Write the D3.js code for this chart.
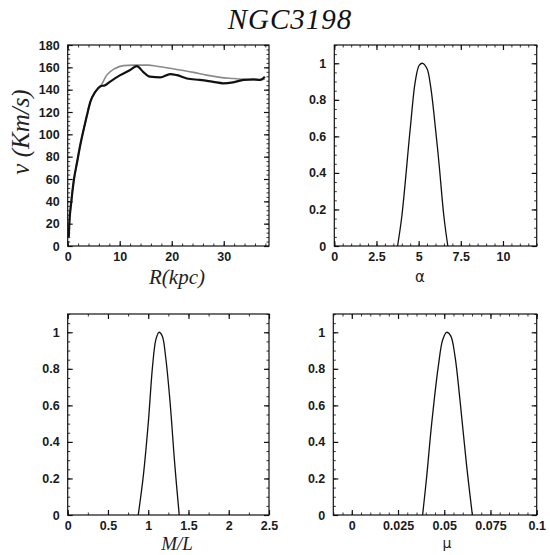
<!DOCTYPE html>
<html><head><meta charset="utf-8">
<script src="https://cdn.jsdelivr.net/npm/d3@7"></script>
<style>
html,body{margin:0;padding:0;background:#fff;}
svg{display:block;}
.tick text{font-family:"Liberation Sans",Arial,sans-serif;font-weight:bold;font-size:12.5px;fill:#1a1a1a;}
</style></head>
<body>
<svg id="chart" width="550" height="555"></svg>
<script>
// ---- data ----
const title = "NGC3198";
// rotation curve: observed (thick) and model (thin)
const obsR = [0.2,0.3,0.7,1.15,1.8,2.4,3.1,3.7,4.35,5.3,6.3,7.2,8.1,10.1,12.0,13.3,14.5,15.8,17.8,19.7,21.0,22.9,25.4,28.0,29.9,31.8,33.8,35.7,37.0,37.9];
const obsV = [8,19,40,58,75,90,105,117,129,138,143,144,147,153,157.6,161,156,151.6,151,154,153,150,148.7,147,145.7,146.6,148.7,149.3,148.7,151.6];
const modR = [0.2,0.3,0.7,1.15,1.8,2.4,3.1,3.7,4.35,5.3,6.3,7.5,9.1,10.7,12.6,15.5,17.1,19.0,21.6,24.2,26.7,29.3,31.8,33.8,36.3,37.9];
const modV = [8,19,40,58,75,90,105,117,129,138,143,153,159,161.5,162,162,161,159.7,157.6,155.5,153,151,150,149.3,148.7,149.3];
// likelihoods
const alphaX = [3.75,4.0,4.5,4.8,5.04,5.24,5.5,5.7,5.9,6.2,6.5,6.73];
const alphaP = [0,0.16,0.64,0.9,0.99,1.0,0.97,0.88,0.73,0.46,0.16,0];
const mlX = [0.876,0.938,1.0,1.054,1.095,1.133,1.174,1.215,1.269,1.331,1.385];
const mlP = [0,0.21,0.5,0.815,0.96,1.0,0.98,0.87,0.63,0.27,0];
const muX = [0.0383,0.0405,0.0432,0.0468,0.0492,0.0513,0.0535,0.0558,0.0585,0.0621,0.0652];
const muP = [0,0.21,0.5,0.815,0.96,1.0,0.98,0.87,0.63,0.27,0];
// tick labels
const rTicks = [0,10,20,30];
const vTicks = [0,20,40,60,80,100,120,140,160,180];
const pTicks = [0,0.2,0.4,0.6,0.8,1];
const pLabels = ["0","0.2","0.4","0.6","0.8","1"];
const alphaTicks = [0,2.5,5,7.5,10];
const alphaLabels = ["0","2.5","5","7.5","10"];
const mlTicks = [0,0.5,1,1.5,2,2.5];
const mlLabels = ["0","0.5","1","1.5","2","2.5"];
const muTicks = [0,0.025,0.05,0.075,0.1];
const muLabels = ["0","0.025","0.05","0.075","0.1"];

const svg = d3.select("#chart");

function range(a,b,s){const out=[];for(let v=a;v<=b+1e-9;v+=s)out.push(+v.toFixed(6));return out;}

function panel(o){
  const x = d3.scaleLinear().domain(o.xd).range([o.x0,o.x1]);
  const y = d3.scaleLinear().domain(o.yd).range([o.y1,o.y0]);
  const g = svg.append("g");
  const minX = range(o.xd[0]<0?Math.ceil(o.xd[0]/o.xm)*o.xm:0,o.xd[1],o.xm);
  const minY = range(0,o.yd[1],o.ym);
  const ax = [
    [d3.axisBottom,x,"translate(0,"+o.y1+")",minX,o.xt,o.xl,true,6],
    [d3.axisTop,x,"translate(0,"+o.y0+")",minX,o.xt,null,false,6],
    [d3.axisLeft,y,"translate("+o.x0+",0)",minY,o.yt,o.yl,true,8],
    [d3.axisRight,y,"translate("+o.x1+",0)",minY,o.yt,null,false,8]
  ];
  ax.forEach(([mkAxis,sc,tr,minors,majors,labels,show,pad])=>{
    g.append("g").attr("transform",tr)
      .call(mkAxis(sc).tickValues(minors).tickSize(-2.5).tickFormat(""))
      .call(s=>{s.select(".domain").remove();s.selectAll("line").attr("stroke","#333");});
    const main = mkAxis(sc).tickValues(majors).tickSizeInner(-5).tickSizeOuter(0).tickPadding(pad)
      .tickFormat(show?((d,i)=>labels?labels[i]:d):"");
    g.append("g").attr("transform",tr).call(main)
      .call(s=>{s.select(".domain").remove();s.selectAll("line").attr("stroke","#111").attr("stroke-width",1.2);});
  });
  g.append("rect").attr("x",o.x0).attr("y",o.y0).attr("width",o.x1-o.x0).attr("height",o.y1-o.y0)
    .attr("fill","none").attr("stroke","#111").attr("stroke-width",1.2);
  return {x,y,g};
}

// Panel 1: rotation curve
const p1 = panel({x0:67.7,x1:269,y0:45,y1:246,xd:[0,38.7],yd:[0,180],xt:rTicks,xl:null,xm:2,yt:vTicks,yl:null,ym:4});
const line1 = d3.line().x(d=>p1.x(d[0])).y(d=>p1.y(d[1])).curve(d3.curveMonotoneX);
p1.g.append("path").attr("d",line1(modR.map((r,i)=>[r,modV[i]])))
  .attr("fill","none").attr("stroke","#8a8a8a").attr("stroke-width",1.6);
p1.g.append("path").attr("d",line1(obsR.map((r,i)=>[r,obsV[i]])))
  .attr("fill","none").attr("stroke","#111").attr("stroke-width",2.2);

// Panel 2: alpha
const p2 = panel({x0:334.3,x1:536.7,y0:45,y1:246,xd:[0,12],yd:[0,1.1],xt:alphaTicks,xl:alphaLabels,xm:0.5,yt:pTicks,yl:pLabels,ym:0.05});
// Panel 3: M/L
const p3 = panel({x0:67.7,x1:269,y0:314,y1:515,xd:[0,2.5],yd:[0,1.1],xt:mlTicks,xl:mlLabels,xm:0.25,yt:pTicks,yl:pLabels,ym:0.05});
// Panel 4: mu
const p4 = panel({x0:333.3,x1:536.7,y0:314,y1:515,xd:[-0.01,0.1],yd:[0,1.1],xt:muTicks,xl:muLabels,xm:0.005,yt:pTicks,yl:pLabels,ym:0.05});

[[p2,alphaX,alphaP],[p3,mlX,mlP],[p4,muX,muP]].forEach(([p,xs,ps])=>{
  const ln = d3.line().x(d=>p.x(d[0])).y(d=>p.y(d[1])).curve(d3.curveCatmullRom.alpha(0.5));
  p.g.append("path").attr("d",ln(xs.map((v,i)=>[v,ps[i]])))
    .attr("fill","none").attr("stroke","#111").attr("stroke-width",1.3);
});

// Titles & axis labels
svg.append("text").attr("x",290).attr("y",29).attr("text-anchor","middle")
  .attr("font-family","Liberation Serif,Times New Roman,serif").attr("font-style","italic")
  .attr("font-size",29).attr("letter-spacing",1).attr("fill","#111").text(title);
svg.append("text").attr("transform","translate(29,132) rotate(-90)").attr("text-anchor","middle")
  .attr("font-family","Liberation Serif,Times New Roman,serif").attr("font-style","italic")
  .attr("font-size",25).attr("fill","#222").text("v (Km/s)");
svg.append("text").attr("x",177).attr("y",284).attr("text-anchor","middle")
  .attr("font-family","Liberation Serif,Times New Roman,serif").attr("font-style","italic")
  .attr("font-size",21).attr("fill","#222").text("R(kpc)");
svg.append("text").attr("x",177).attr("y",550).attr("text-anchor","middle")
  .attr("font-family","Liberation Serif,Times New Roman,serif").attr("font-style","italic")
  .attr("font-size",19).attr("fill","#222").text("M/L");
svg.append("text").attr("x",420).attr("y",282).attr("text-anchor","middle")
  .attr("font-family","DejaVu Sans,sans-serif").attr("font-size",15).attr("fill","#222").text("α");
svg.append("text").attr("x",447).attr("y",548).attr("text-anchor","middle")
  .attr("font-family","DejaVu Sans,sans-serif").attr("font-size",14).attr("fill","#222").text("μ");
</script>
</body></html>
